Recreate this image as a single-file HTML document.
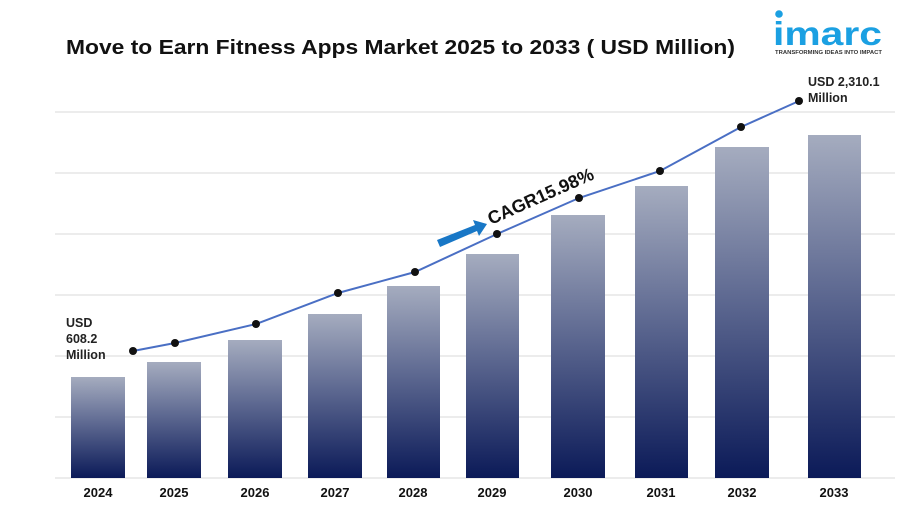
<!DOCTYPE html>
<html><head><meta charset="utf-8"><style>
body{margin:0;width:898px;height:503px;background:#fff;overflow:hidden}
</style></head><body>
<svg width="898" height="503" xmlns="http://www.w3.org/2000/svg" font-family="Liberation Sans, Arial, sans-serif">
<defs>
<linearGradient id="g" x1="0" y1="0" x2="0" y2="1">
<stop offset="0" stop-color="#a5acbf"/>
<stop offset="0.45" stop-color="#5f6a92"/>
<stop offset="1" stop-color="#0b1a58"/>
</linearGradient>
</defs>
<text x="66" y="54" font-size="20" font-weight="bold" fill="#111" textLength="669" lengthAdjust="spacingAndGlyphs">Move to Earn Fitness Apps Market 2025 to 2033 ( USD Million)</text>
<!-- logo -->
<circle cx="779" cy="14" r="3.8" fill="#1ba0e2"/>
<text x="773" y="45" font-size="33" font-weight="bold" fill="#1ba0e2" textLength="109" lengthAdjust="spacingAndGlyphs">imarc</text>
<text x="775" y="54" font-size="5.5" font-weight="bold" fill="#333" textLength="107" lengthAdjust="spacingAndGlyphs">TRANSFORMING IDEAS INTO IMPACT</text>
<g stroke="#d9d9d9" stroke-width="1">
<line x1="55" y1="112" x2="895" y2="112"/><line x1="55" y1="173" x2="895" y2="173"/>
<line x1="55" y1="234" x2="895" y2="234"/><line x1="55" y1="295" x2="895" y2="295"/>
<line x1="55" y1="356" x2="895" y2="356"/><line x1="55" y1="417" x2="895" y2="417"/>
<line x1="55" y1="478" x2="895" y2="478"/>
</g>
<g fill="url(#g)">
<rect x="71" y="377" width="54" height="101"/>
<rect x="147" y="362" width="54" height="116"/>
<rect x="228" y="340" width="54" height="138"/>
<rect x="308" y="314" width="54" height="164"/>
<rect x="387" y="286" width="53" height="192"/>
<rect x="466" y="254" width="53" height="224"/>
<rect x="551" y="215" width="54" height="263"/>
<rect x="635" y="186" width="53" height="292"/>
<rect x="715" y="147" width="54" height="331"/>
<rect x="808" y="135" width="53" height="343"/>
</g>
<polyline points="133,351 175,343 256,324 338,293 415,272 497,234 579,198 660,171 741,127 799,101" fill="none" stroke="#4a6fc4" stroke-width="2"/>
<g fill="#111">
<circle cx="133" cy="351" r="4"/><circle cx="175" cy="343" r="4"/><circle cx="256" cy="324" r="4"/>
<circle cx="338" cy="293" r="4"/><circle cx="415" cy="272" r="4"/><circle cx="497" cy="234" r="4"/>
<circle cx="579" cy="198" r="4"/><circle cx="660" cy="171" r="4"/><circle cx="741" cy="127" r="4"/>
<circle cx="799" cy="101" r="4"/>
</g>
<g font-size="13" font-weight="bold" fill="#111" text-anchor="middle">
<text x="98" y="497">2024</text><text x="174" y="497">2025</text><text x="255" y="497">2026</text>
<text x="335" y="497">2027</text><text x="413" y="497">2028</text><text x="492" y="497">2029</text>
<text x="578" y="497">2030</text><text x="661" y="497">2031</text><text x="742" y="497">2032</text>
<text x="834" y="497">2033</text>
</g>
<g font-size="12.5" font-weight="bold" fill="#222">
<text x="66" y="327">USD</text><text x="66" y="343">608.2</text><text x="66" y="359">Million</text>
<text x="808" y="86">USD 2,310.1</text><text x="808" y="102">Million</text>
</g>
<polygon points="437,240 475,225 473,220 487,224 479,236 477,231 440,247" fill="#1877c6"/>
<text x="0" y="0" font-size="18" font-weight="bold" fill="#111" transform="translate(491,225) rotate(-24)">CAGR15.98%</text>
</svg>
</body></html>
